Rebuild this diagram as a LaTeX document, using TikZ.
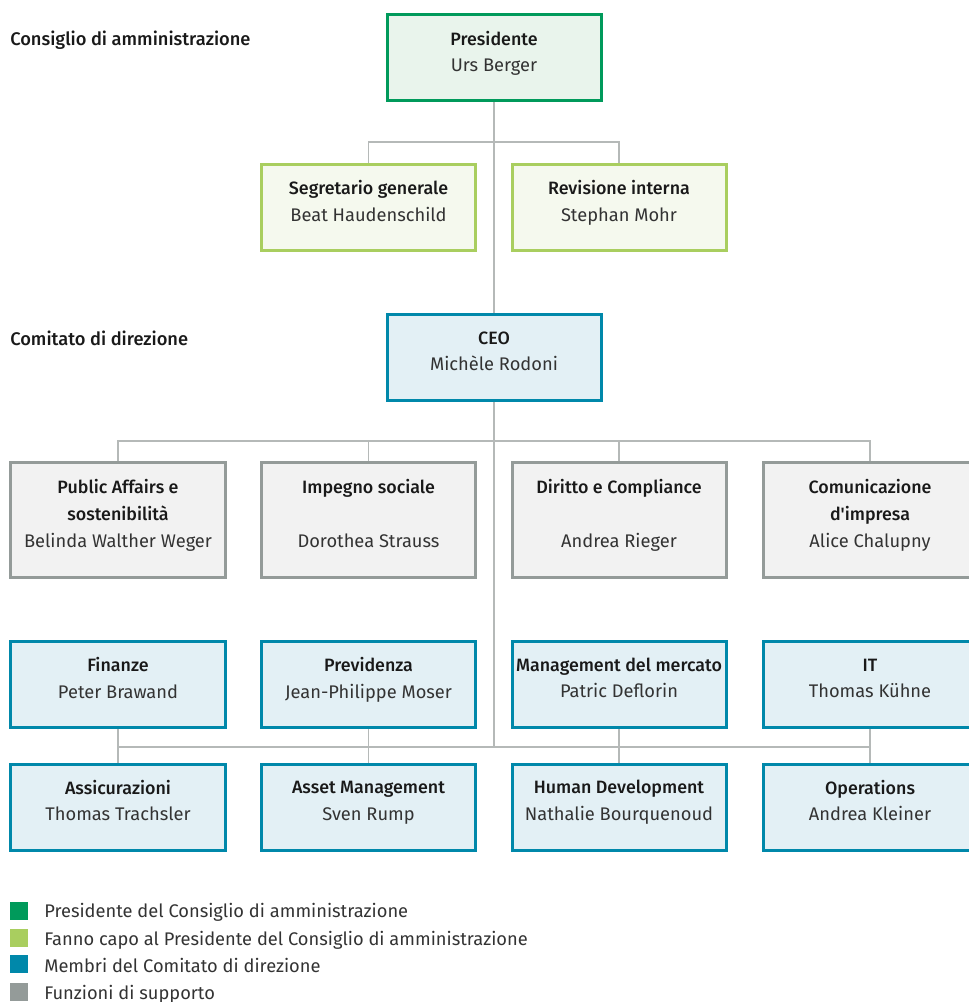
\documentclass[tikz,border=0pt]{standalone}
\usepackage{fontspec}
\setmainfont{Fira Sans}[BoldFont={Fira Sans Medium}]
\usetikzlibrary{positioning}

\definecolor{prgreen}{HTML}{009A5B}
\definecolor{prgreenfill}{HTML}{E9F4EC}
\definecolor{lgreen}{HTML}{A9CE5F}
\definecolor{lgreenfill}{HTML}{F5F9EE}
\definecolor{cdblue}{HTML}{0088AA}
\definecolor{cdbluefill}{HTML}{E3F0F5}
\definecolor{supgray}{HTML}{949B99}
\definecolor{supgrayfill}{HTML}{F2F2F2}
\definecolor{linegray}{HTML}{B5B9B8}
\definecolor{nametext}{HTML}{333333}

\newcommand{\boxfont}{\fontsize{13pt}{19pt}\selectfont\lineskiplimit-100pt\relax}
\newcommand{\ls}{\rule[-9.5pt]{0pt}{19pt}}
\newcommand{\nm}[1]{\ls\color{nametext}#1}
\newcommand{\tl}[1]{\ls{\fontsize{12.7pt}{19pt}\selectfont\bfseries #1}}

\tikzset{
  box/.style={rectangle, line width=0.75mm, minimum width=53.5mm, minimum height=21.5mm,
    align=center, inner sep=0pt, text=black!90, font=\boxfont},
  presbox/.style={box, draw=prgreen, fill=prgreenfill},
  staffbox/.style={box, draw=lgreen, fill=lgreenfill},
  membox/.style={box, draw=cdblue, fill=cdbluefill},
  supbox/.style={box, draw=supgray, fill=supgrayfill, minimum height=28.75mm},
  conn/.style={draw=linegray, line width=0.35mm},
  legsq/.style={rectangle, inner sep=0pt, minimum size=4.5mm},
  legtext/.style={anchor=base west, inner sep=0pt, text=nametext,
    font=\fontsize{13pt}{19pt}\selectfont},
  head/.style={anchor=base west, inner sep=0pt, text=black!90,
    font=\fontsize{13pt}{19pt}\selectfont\bfseries}
}

\begin{document}
\begin{tikzpicture}[x=0.25mm, y=-0.25mm]
  \useasboundingbox (0,0) rectangle (968,1002);

  % Consiglio di amministrazione
  \node[head] (hcda) at (10,46) {Consiglio di amministrazione};
  \node[presbox] (pres) at (494,58) {\tl{Presidente}\\\nm{Urs Berger}};
  \node[staffbox] (segr) at (368.5,207.5) {\tl{Segretario generale}\\\nm{Beat Haudenschild}};
  \node[staffbox] (rev) at (619,207.5) {\tl{Revisione interna}\\\nm{Stephan Mohr}};

  % Comitato di direzione
  \node[head] (hcd) at (10,345) {Comitato di direzione};
  \node[membox] (ceo) at (494,357.5) {\tl{CEO}\\\nm{Michèle Rodoni}};

  % funzioni di supporto
  \node[supbox] (pa) at (118,520) {\tl{Public Affairs e}\\\tl{sostenibilità}\\\nm{Belinda Walther Weger}};
  \node[supbox] (imp) at (368.5,520) {\tl{Impegno sociale}\\\ls\\\nm{Dorothea Strauss}};
  \node[supbox] (dir) at (619,520) {\tl{Diritto e Compliance}\\\ls\\\nm{Andrea Rieger}};
  \node[supbox] (com) at (870,520) {\tl{Comunicazione}\\\tl{d\textquotesingle impresa}\\\nm{Alice Chalupny}};

  % membri
  \node[membox] (fin) at (118,684.5) {\tl{Finanze}\\\nm{Peter Brawand}};
  \node[membox] (prev) at (368.5,684.5) {\tl{Previdenza}\\\nm{Jean-Philippe Moser}};
  \node[membox] (mkt) at (619,684.5) {\tl{Management del mercato}\\\nm{Patric Deflorin}};
  \node[membox] (it) at (870,684.5) {\tl{IT}\\\nm{Thomas Kühne}};

  \node[membox] (ass) at (118,807) {\tl{Assicurazioni}\\\nm{Thomas Trachsler}};
  \node[membox] (am) at (368.5,807) {\tl{Asset Management}\\\nm{Sven Rump}};
  \node[membox] (hd) at (619,807) {\tl{Human Development}\\\nm{Nathalie Bourquenoud}};
  \node[membox] (ops) at (870,807) {\tl{Operations}\\\nm{Andrea Kleiner}};

  % linee
  \coordinate (j1) at (494,142);
  \coordinate (j2) at (494,441);
  \coordinate (j3) at (494,747);
  \draw[conn] (pres.south) -- (ceo.north);
  \draw[conn] (segr.north) |- (j1) -| (rev.north);
  \draw[conn] (ceo.south) -- (j3);
  \draw[conn] (pa.north) |- (j2) -| (com.north);
  \draw[conn] (imp.north) |- (j2) -| (dir.north);
  \draw[conn] (fin.south |- j3) -- (it.south |- j3);
  \draw[conn] (fin.south) -- (ass.north);
  \draw[conn] (prev.south) -- (am.north);
  \draw[conn] (mkt.south) -- (hd.north);
  \draw[conn] (it.south) -- (ops.north);

  % legenda
  \node[legsq, fill=prgreen] (sq1) at (19,911) {};
  \node[legsq, fill=lgreen] (sq2) at (19,938) {};
  \node[legsq, fill=cdblue] (sq3) at (19,964) {};
  \node[legsq, fill=supgray] (sq4) at (19,992) {};
  \node[legtext] (lt1) at (44,917) {Presidente del Consiglio di amministrazione};
  \node[legtext] (lt2) at (44,945) {Fanno capo al Presidente del Consiglio di amministrazione};
  \node[legtext] (lt3) at (44,972) {Membri del Comitato di direzione};
  \node[legtext] (lt4) at (44,999) {Funzioni di supporto};
\end{tikzpicture}
\end{document}
